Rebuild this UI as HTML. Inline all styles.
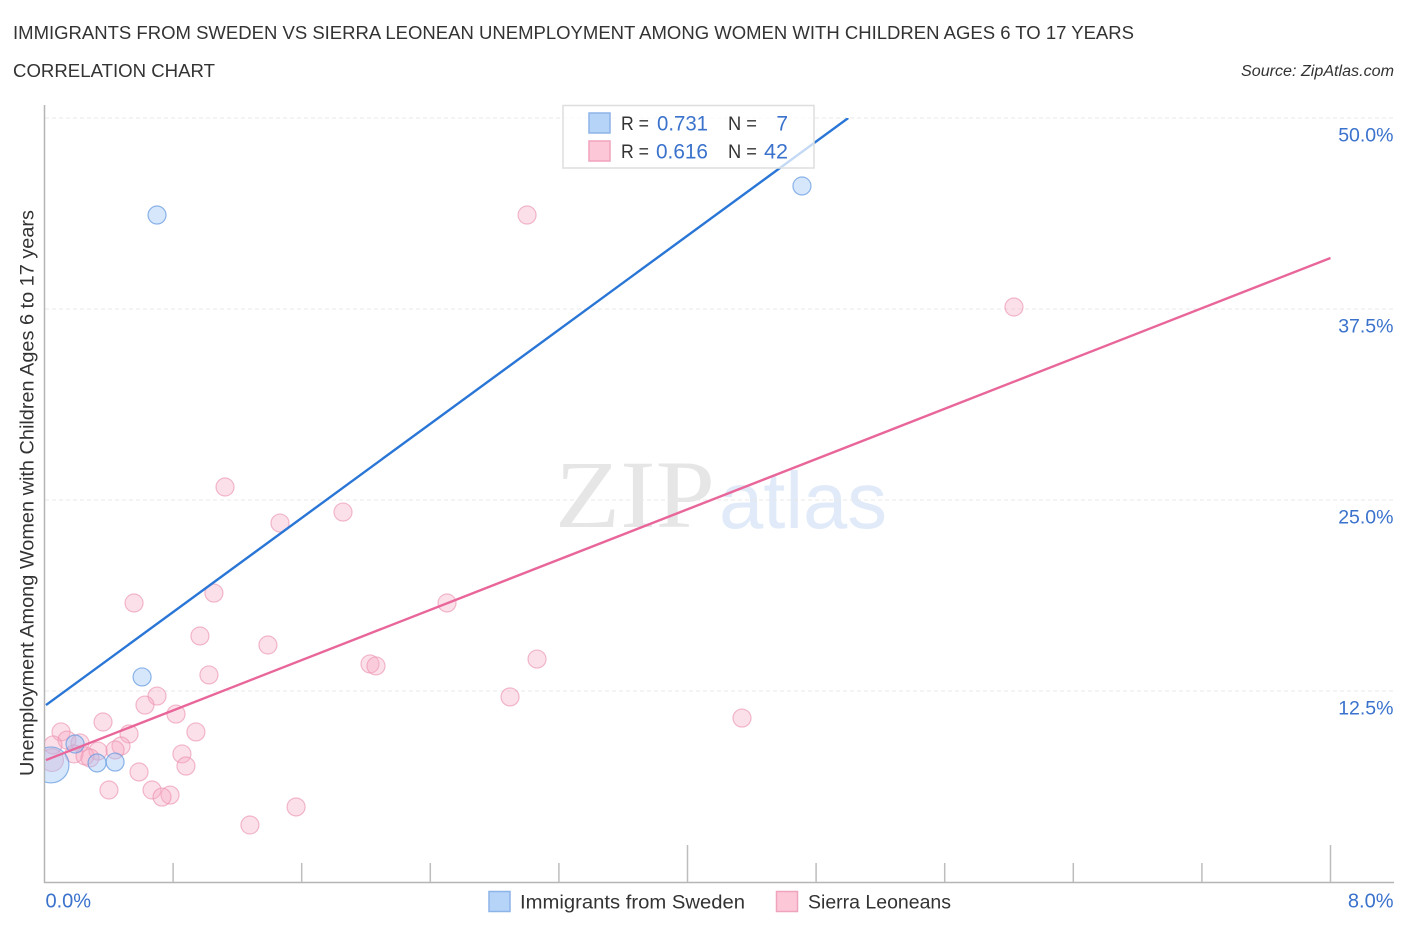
<!DOCTYPE html>
<html lang="en">
<head>
<meta charset="utf-8">
<title>Immigrants from Sweden vs Sierra Leonean correlation chart</title>
<style>
html,body{margin:0;padding:0;background:#fff;width:1406px;height:930px;overflow:hidden}
svg{display:block}
text{font-family:"Liberation Sans",sans-serif}
</style>
</head>
<body>
<svg id="chart" xmlns="http://www.w3.org/2000/svg" width="1406" height="930" viewBox="0 0 1406 930">
  <defs>
    <clipPath id="plot-clip"><rect x="45" y="118" width="1350" height="764"/></clipPath>
  </defs>
  <rect width="1406" height="930" fill="#fff"/>
  <text x="13" y="39" font-size="18.5" fill="#333" textLength="1121" lengthAdjust="spacingAndGlyphs">IMMIGRANTS FROM SWEDEN VS SIERRA LEONEAN UNEMPLOYMENT AMONG WOMEN WITH CHILDREN AGES 6 TO 17 YEARS</text>
  <text x="13" y="77" font-size="18.5" fill="#333" textLength="202" lengthAdjust="spacingAndGlyphs">CORRELATION CHART</text>
  <text x="1241" y="76" font-size="15.5" font-style="italic" fill="#333" textLength="153" lengthAdjust="spacingAndGlyphs">Source: ZipAtlas.com</text>

  <g>
    <text x="555" y="527" font-size="96" fill="#e6e6e6" textLength="160" lengthAdjust="spacingAndGlyphs" style="font-family:'Liberation Serif',serif">ZIP</text>
    <text x="719" y="528" font-size="80" fill="#e0eaf8" textLength="168" lengthAdjust="spacingAndGlyphs" style="font-family:'Liberation Sans',sans-serif">atlas</text>
  </g>

  <g id="grid"></g>
  <g id="axes">
    <line x1="44.5" y1="105" x2="44.5" y2="883" stroke="#b5b5b5" stroke-width="1.5"/>
    <line x1="44" y1="882.5" x2="1394" y2="882.5" stroke="#b5b5b5" stroke-width="1.5"/>
  </g>
  <g id="x-ticks"></g>
  <g id="y-labels"></g>
  <g id="x-labels"></g>

  <text transform="translate(33.5,776) rotate(-90)" font-size="19" fill="#333" textLength="566" lengthAdjust="spacingAndGlyphs">Unemployment Among Women with Children Ages 6 to 17 years</text>

  <g id="points-sierra" clip-path="url(#plot-clip)"></g>
  <g id="points-sweden" clip-path="url(#plot-clip)"></g>
  <g id="trends" clip-path="url(#plot-clip)"></g>

  <g>
    <rect x="563" y="105.5" width="251" height="62.5" fill="#fff" fill-opacity="0.72" stroke="#dedede" stroke-width="1.5"/>
    <rect x="589" y="113" width="21" height="20" fill="#b6d3f8" stroke="#8db4e8" stroke-width="1.5"/>
    <rect x="589" y="141" width="21" height="20" fill="#fcc8d8" stroke="#f0a3bc" stroke-width="1.5"/>
    <text x="621" y="130" font-size="19" fill="#333" textLength="28" lengthAdjust="spacingAndGlyphs">R =</text>
    <text x="657" y="130.5" font-size="21" fill="#3a72cc" textLength="51" lengthAdjust="spacingAndGlyphs">0.731</text>
    <text x="728" y="130" font-size="19" fill="#333" textLength="29" lengthAdjust="spacingAndGlyphs">N =</text>
    <text x="788" y="130.5" font-size="21" fill="#3a72cc" text-anchor="end">7</text>
    <text x="621" y="158" font-size="19" fill="#333" textLength="28" lengthAdjust="spacingAndGlyphs">R =</text>
    <text x="656" y="158.5" font-size="21" fill="#3a72cc" textLength="52" lengthAdjust="spacingAndGlyphs">0.616</text>
    <text x="728" y="158" font-size="19" fill="#333" textLength="29" lengthAdjust="spacingAndGlyphs">N =</text>
    <text x="764" y="158.5" font-size="21" fill="#3a72cc" textLength="24" lengthAdjust="spacingAndGlyphs">42</text>
  </g>

  <g>
    <g>
      <rect x="489" y="891.5" width="21" height="20" fill="#b6d3f8" stroke="#8db4e8" stroke-width="1.5"/>
      <text x="520" y="908.5" font-size="19.5" fill="#333" textLength="225" lengthAdjust="spacingAndGlyphs">Immigrants from Sweden</text>
    </g>
    <g>
      <rect x="776.5" y="891.5" width="21" height="20" fill="#fcc8d8" stroke="#f0a3bc" stroke-width="1.5"/>
      <text x="808" y="908.5" font-size="19.5" fill="#333" textLength="143" lengthAdjust="spacingAndGlyphs">Sierra Leoneans</text>
    </g>
  </g>
</svg>
<script>
const swedenX = [0.70, 4.712, 0.607, 0.327, 0.439, 0.190, 0.040];
const swedenY = [43.65, 45.55, 13.42, 7.79, 7.85, 9.03, 7.66];
const swedenWeight = [1, 1, 1, 1, 1, 1, 4];
const sierraX = [3.002, 6.031, 1.123, 1.465, 1.857, 1.054, 0.557, 2.504, 0.967, 1.390, 2.025, 2.062, 3.064, 1.023, 2.896, 0.700, 0.625, 0.818, 4.339, 0.364, 0.942, 0.526, 0.103, 0.140, 0.221, 0.053, 0.476, 0.439, 0.333, 0.184, 0.252, 0.283, 0.855, 0.880, 0.588, 0.401, 0.669, 0.781, 0.731, 1.565, 1.278, 0.047];
const sierraY = [43.65, 37.63, 25.85, 23.49, 24.21, 18.91, 18.26, 18.26, 16.10, 15.51, 14.27, 14.14, 14.59, 13.55, 12.11, 12.17, 11.58, 10.99, 10.73, 10.47, 9.82, 9.69, 9.82, 9.29, 9.10, 8.97, 8.90, 8.64, 8.57, 8.38, 8.25, 8.12, 8.38, 7.59, 7.20, 6.02, 6.02, 5.69, 5.56, 4.91, 3.73, 7.98];
const sierraWeight = [1, 1, 1, 1, 1, 1, 1, 1, 1, 1, 1, 1, 1, 1, 1, 1, 1, 1, 1, 1, 1, 1, 1, 1, 1, 1, 1, 1, 1, 1, 1, 1, 1, 1, 1, 1, 1, 1, 1, 1, 1, 1.6];
const swedenTrendX = [0.0093, 5.0];
const swedenTrendY = [11.58, 50];
const sierraTrendX = [0.0093, 8.0];
const sierraTrendY = [7.98, 40.84];
const yTickValues = [12.5, 25, 37.5, 50];
const yTickLabels = ["12.5%", "25.0%", "37.5%", "50.0%"];
const xTickValues = [0.8, 1.6, 2.4, 3.2, 4.0, 4.8, 5.6, 6.4, 7.2, 8.0];
const xMajorTicks = [4.0, 8.0];
const xEndValues = [0, 8];
const xEndLabels = ["0.0%", "8.0%"];

const NS = "http://www.w3.org/2000/svg";
const X0 = 44.5, X1 = 1330.5, Y0 = 882, Y1 = 118, XMAX = 8, YMAX = 50, BASE_R = 9;
function xScale(v) { return X0 + v / XMAX * (X1 - X0); }
function yScale(v) { return Y0 - v / YMAX * (Y0 - Y1); }
function make(tag, attrs, parent) {
  const el = document.createElementNS(NS, tag);
  for (const k in attrs) el.setAttribute(k, attrs[k]);
  parent.appendChild(el);
  return el;
}
const gridG = document.getElementById("grid");
const ticksG = document.getElementById("x-ticks");
const yLabelG = document.getElementById("y-labels");
const xLabelG = document.getElementById("x-labels");
const sierraG = document.getElementById("points-sierra");
const swedenG = document.getElementById("points-sweden");
const trendG = document.getElementById("trends");

yTickValues.forEach(function (v, i) {
  const line = make("line", { x1: 45, x2: 1393, y1: yScale(v), y2: yScale(v), stroke: "#e8e8e8", "stroke-width": 1, "stroke-dasharray": "4 3" }, gridG);
  
  
  const label = make("text", { x: 1393.5, y: yScale(v) + 23.5, "text-anchor": "end", "font-size": 19.5, fill: "#3a72cc" }, yLabelG);
  label.textContent = yTickLabels[i];
  
  
});

xTickValues.forEach(function (v) {
  const major = xMajorTicks.indexOf(v) >= 0;
  const tick = make("line", { x1: xScale(v), x2: xScale(v), y1: major ? 845 : 863, y2: 882, stroke: "#bdbdbd", "stroke-width": 1.5 }, ticksG);
  
  
});

xEndValues.forEach(function (v, i) {
  const label = make("text", { x: i === 0 ? xScale(v) + 1 : 1393.5, y: 907.5, "text-anchor": i === 0 ? "start" : "end", "font-size": 20, fill: "#3a72cc" }, xLabelG);
  label.textContent = xEndLabels[i];
  
  
});

sierraX.forEach(function (v, i) {
  const c = make("circle", { cx: xScale(v), cy: yScale(sierraY[i]), r: BASE_R * Math.sqrt(sierraWeight[i]), fill: "#f8a9c2", "fill-opacity": 0.36, stroke: "#ea8fae", "stroke-opacity": 0.62, "stroke-width": 1.2 }, sierraG);
  
  
});

swedenX.forEach(function (v, i) {
  const c = make("circle", { cx: xScale(v), cy: yScale(swedenY[i]), r: BASE_R * Math.sqrt(swedenWeight[i]), fill: "#9cc2f5", "fill-opacity": 0.4, stroke: "#5f97e0", "stroke-opacity": 0.7, "stroke-width": 1.2 }, swedenG);
  
  
});

const swedenLine = make("line", { x1: xScale(swedenTrendX[0]), y1: yScale(swedenTrendY[0]), x2: xScale(swedenTrendX[1]), y2: yScale(swedenTrendY[1]), stroke: "#2a76d6", "stroke-width": 2.4 }, trendG);



const sierraLine = make("line", { x1: xScale(sierraTrendX[0]), y1: yScale(sierraTrendY[0]), x2: xScale(sierraTrendX[1]), y2: yScale(sierraTrendY[1]), stroke: "#e8669a", "stroke-width": 2.4 }, trendG);


</script>
</body>
</html>
